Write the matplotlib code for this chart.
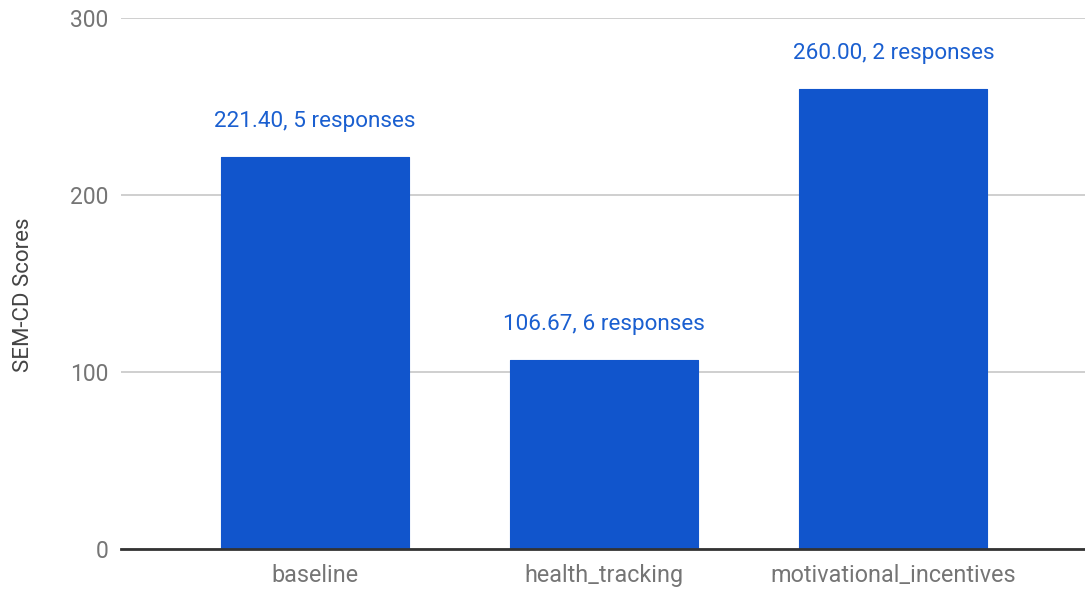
import matplotlib
matplotlib.use("Agg")
import matplotlib.pyplot as plt

# Mean SEM-CD score per intervention arm
categories = ["baseline", "health_tracking", "motivational_incentives"]
scores = [221.40, 106.67, 260.00]
responses = [5, 6, 2]
y_ticks = [0, 100, 200, 300]

plt.rcParams["font.family"] = ["Roboto", "DejaVu Sans"]

BAR_COLOR = "#1155cc"
LABEL_COLOR = "#1a5fd0"

fig = plt.figure(figsize=(10.85, 5.91), dpi=100)
ax = fig.add_axes([0.1115, 0.0711, 1.0 - 0.1115, 0.9695 - 0.0711])

x = list(range(len(categories)))
bars = ax.bar(x, scores, width=0.65, color=BAR_COLOR, edgecolor=BAR_COLOR,
              linewidth=0.8, joinstyle="round", zorder=3)

for xi, val, n in zip(x, scores, responses):
    ax.annotate(f"{val:.2f}, {n} responses", xy=(xi, val), xytext=(0, 18),
                textcoords="offset points", ha="center", va="bottom",
                fontsize=16.2, color=LABEL_COLOR)

ax.set_xlim(-0.672, 2.663)
ax.set_ylim(0, 300)
ax.set_yticks(y_ticks)
ax.set_xticks(x)
ax.set_xticklabels(categories)

ax.grid(axis="y", color="#cccccc", linewidth=1.3, zorder=0)
ax.set_axisbelow(True)
for s in ["top", "right", "left", "bottom"]:
    ax.spines[s].set_visible(False)
ax.axhline(0, color="#333333", linewidth=2, zorder=4, clip_on=False)

ax.tick_params(axis="both", length=0, labelsize=16.5, labelcolor="#757575")
ax.tick_params(axis="x", labelsize=16.8)
ax.tick_params(axis="y", pad=9)
ax.tick_params(axis="x", pad=11)

ax.set_ylabel("SEM-CD Scores", fontsize=16, color="#444444")
ax.yaxis.set_label_coords(-0.0905, 0.478)

fig.savefig("out.png", dpi=100)
